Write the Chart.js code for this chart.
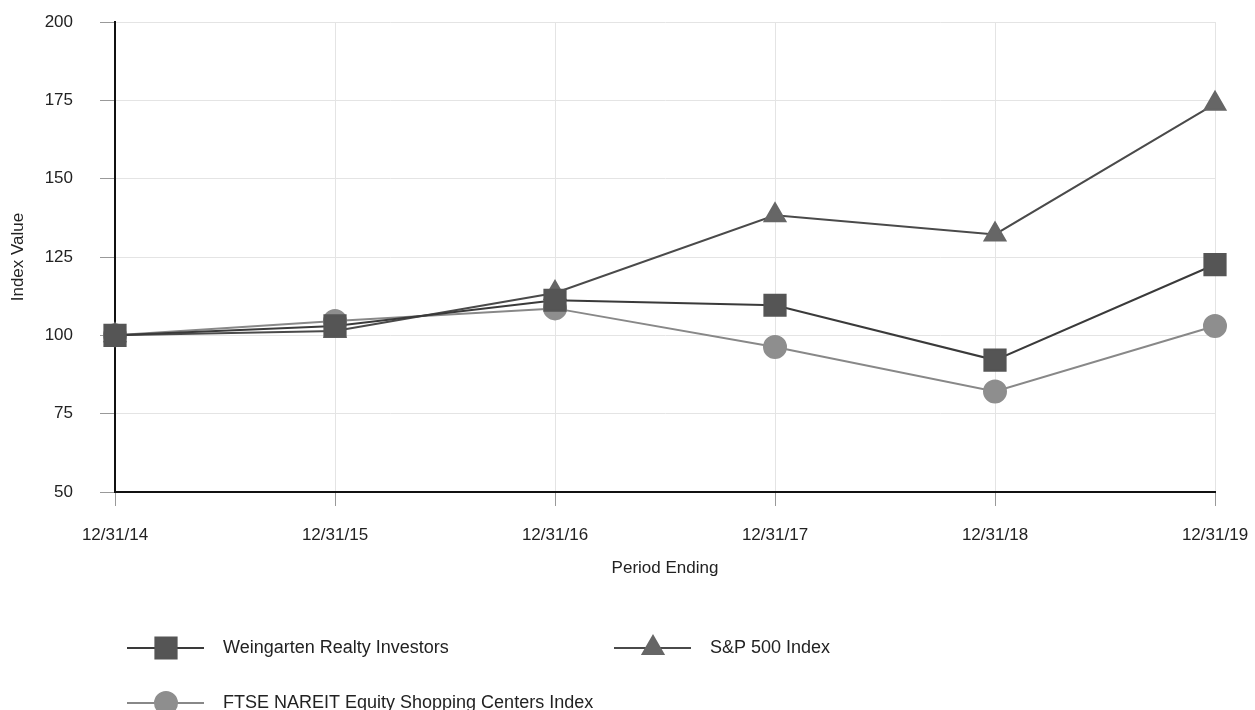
<!DOCTYPE html>
<html>
<head>
<meta charset="utf-8">
<script src="https://cdn.jsdelivr.net/npm/chart.js@4"></script>
<style>
  body { margin: 0; background: #fff; }
  canvas { display: block; }
</style>
</head>
<body>
<canvas id="chart" width="1255" height="710"></canvas>
<script>
// Data
const periods = ["12/31/14", "12/31/15", "12/31/16", "12/31/17", "12/31/18", "12/31/19"];
const weingarten = [100, 103, 111.2, 109.6, 92.1, 122.6];
const sp500 = [100, 101.4, 113.5, 138.3, 132.2, 173.9];
const ftseNareit = [100, 104.6, 108.6, 96.3, 82.1, 103.0];
const yTicks = [50, 75, 100, 125, 150, 175, 200];

const FONT = "'Liberation Sans', Arial, sans-serif";
Chart.defaults.font.family = FONT;
Chart.defaults.color = "#222";

// Legend drawn by hand so the line runs through the marker
const lineLegend = {
  id: "lineLegend",
  afterDraw(chart, args, opts) {
    const ctx = chart.ctx;
    opts.items.forEach((item) => {
      const ds = chart.data.datasets[item.index];
      ctx.save();
      ctx.strokeStyle = ds.borderColor;
      ctx.lineWidth = 2;
      ctx.beginPath();
      ctx.moveTo(item.x, item.y);
      ctx.lineTo(item.x + 77, item.y);
      ctx.stroke();
      ctx.fillStyle = ds.pointBackgroundColor;
      ctx.strokeStyle = ds.pointBorderColor;
      Chart.helpers.drawPoint(ctx, {
        pointStyle: ds.pointStyle,
        radius: ds.pointRadius,
        borderWidth: 1,
        rotation: 0,
      }, item.x + 39, item.y);
      ctx.fillStyle = "#222";
      ctx.font = "18px " + FONT;
      ctx.textBaseline = "middle";
      ctx.fillText(ds.label, item.x + 96, item.y);
      ctx.restore();
    });
  },
};

new Chart(document.getElementById("chart"), {
  type: "line",
  data: {
    labels: periods,
    datasets: [
      {
        label: "Weingarten Realty Investors",
        data: weingarten,
        borderColor: "#3a3a3a",
        borderWidth: 2,
        pointStyle: "rect",
        pointRadius: 15,
        pointBackgroundColor: "#555",
        pointBorderColor: "#555",
      },
      {
        label: "S&P 500 Index",
        data: sp500,
        borderColor: "#4a4a4a",
        borderWidth: 2,
        pointStyle: "triangle",
        pointRadius: 12,
        pointBackgroundColor: "#666",
        pointBorderColor: "#666",
      },
      {
        label: "FTSE NAREIT Equity Shopping Centers Index",
        data: ftseNareit,
        borderColor: "#888",
        borderWidth: 2,
        pointStyle: "circle",
        pointRadius: 11,
        pointBackgroundColor: "#8e8e8e",
        pointBorderColor: "#8e8e8e",
      },
    ],
  },
  options: {
    responsive: false,
    animation: false,
    clip: false,
    layout: {
      padding: { top: 22, right: 40, left: 0, bottom: 129 },
    },
    plugins: {
      legend: { display: false },
      tooltip: { enabled: false },
      lineLegend: {
        items: [
          { index: 0, x: 127, y: 648 },
          { index: 1, x: 614, y: 648 },
          { index: 2, x: 127, y: 703 },
        ],
      },
    },
    scales: {
      x: {
        offset: false,
        grid: {
          color: "#e4e4e4",
          tickColor: "#999",
          tickLength: 14,
        },
        border: { color: "#111", width: 2 },
        ticks: {
          font: { size: 17 },
          padding: 19,
          maxRotation: 0,
        },
        title: {
          display: true,
          text: "Period Ending",
          font: { size: 17 },
          padding: { top: 4, bottom: 2 },
        },
        afterFit(scale) {
          scale.height = 89;
          scale.paddingLeft = 0;
          scale.paddingRight = 0;
        },
      },
      y: {
        min: 50,
        max: 200,
        afterBuildTicks(scale) {
          scale.ticks = yTicks.map((v) => ({ value: v }));
        },
        grid: {
          color: "#e4e4e4",
          tickColor: "#999",
          tickLength: 15,
        },
        border: { color: "#111", width: 2 },
        ticks: {
          font: { size: 17 },
          padding: 27,
        },
        title: {
          display: true,
          text: "Index Value",
          font: { size: 17 },
          padding: { top: 8, bottom: 0 },
        },
        afterFit(scale) {
          scale.width = 115;
          scale.paddingTop = 0;
          scale.paddingBottom = 0;
        },
      },
    },
  },
  plugins: [lineLegend],
});
</script>
</body>
</html>
